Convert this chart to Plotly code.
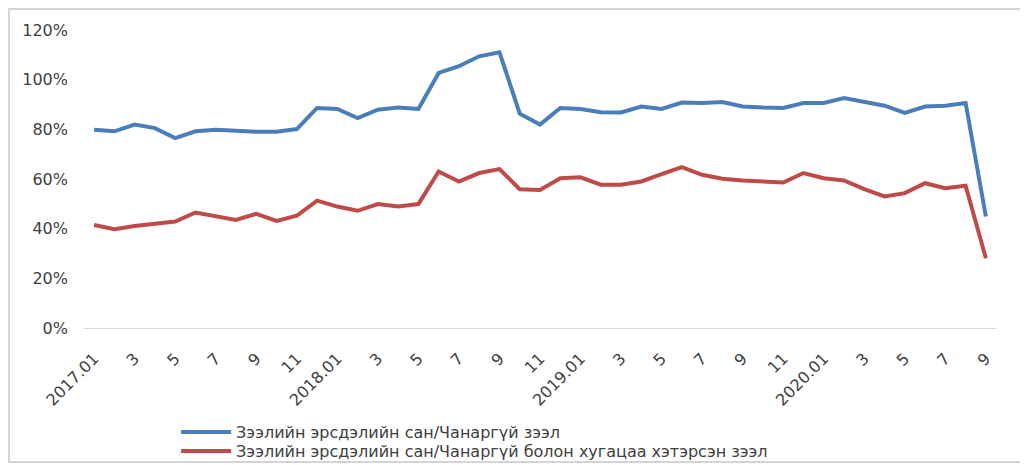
import plotly.graph_objects as go

months = [f"{y}.{m:02d}" for y in (2017, 2018, 2019, 2020) for m in range(1, 13)][:45]

series1_name = "Зээлийн эрсдэлийн сан/Чанаргүй зээл"
series1 = [79.8, 79.2, 81.9, 80.5, 76.5, 79.2, 79.8, 79.3, 79.0, 79.0, 80.1, 88.6,
           88.2, 84.5, 87.9, 88.8, 88.2, 102.7, 105.4, 109.4, 111.0, 86.3, 81.9, 88.6,
           88.2, 86.9, 86.8, 89.2, 88.2, 90.8, 90.6, 91.0, 89.2, 88.8, 88.6, 90.6,
           90.6, 92.6, 90.9, 89.5, 86.6, 89.2, 89.5, 90.6, 44.9]

series2_name = "Зээлийн эрсдэлийн сан/Чанаргүй болон хугацаа хэтэрсэн зээл"
series2 = [41.5, 39.8, 41.1, 41.8, 42.9, 46.5, 44.9, 43.5, 46.0, 43.1, 45.2, 51.3,
           48.9, 47.2, 49.9, 48.9, 49.9, 63.0, 59.0, 62.4, 64.0, 55.9, 55.6, 60.3,
           60.7, 57.7, 57.7, 59.0, 62.0, 64.8, 61.7, 60.1, 59.4, 59.0, 58.6, 62.4,
           60.3, 59.4, 55.9, 53.0, 54.3, 58.3, 56.3, 57.3, 28.1]

tick_labels = ["2017.01", "3", "5", "7", "9", "11",
               "2018.01", "3", "5", "7", "9", "11",
               "2019.01", "3", "5", "7", "9", "11",
               "2020.01", "3", "5", "7", "9"]

y_ticks = [0, 20, 40, 60, 80, 100, 120]

font_family = "DejaVu Sans, Verdana, sans-serif"
text_color = "#404040"
fs = 16

fig = go.Figure()
fig.add_trace(go.Scatter(x=months, y=series1, mode="lines", name=series1_name,
                         line=dict(color="#4a7ebb", width=4), legend="legend"))
fig.add_trace(go.Scatter(x=months, y=series2, mode="lines", name=series2_name,
                         line=dict(color="#be4b48", width=4), legend="legend2"))

leg_common = dict(xanchor="left", yanchor="middle", orientation="v",
                  font=dict(size=fs, color=text_color, family=font_family),
                  itemwidth=50, bgcolor="rgba(0,0,0,0)", borderwidth=0)

# the page body adds an 8px margin, so the figure is sized to fit inside the window
fig.update_layout(
    width=1020, height=457,
    margin=dict(l=76, r=32, t=22, b=137, autoexpand=False),
    paper_bgcolor="white", plot_bgcolor="white",
    font=dict(family=font_family, size=fs, color=text_color),
    showlegend=True,
    legend=dict(x=0.101, y=-0.349, **leg_common),
    legend2=dict(x=0.101, y=-0.413, **leg_common),
    xaxis=dict(type="category", tickmode="array", automargin=False,
               tickvals=months[::2], ticktext=tick_labels,
               tickangle=-45, showgrid=False, showline=True,
               linecolor="#d9d9d9", linewidth=1, ticks="",
               ticklabelstandoff=14,
               range=[-0.5, 44.5], tickfont=dict(size=fs, color=text_color)),
    yaxis=dict(range=[0, 120], tickvals=y_ticks, automargin=False,
               ticktext=[f"{v}%" for v in y_ticks],
               showgrid=False, zeroline=False, showline=False, ticks="",
               ticklabelstandoff=15, tickfont=dict(size=fs, color=text_color)),
    shapes=[dict(type="rect", xref="paper", yref="paper",
                 x0=-0.0822, x1=1.0307, y0=-0.4497, y1=1.0705,
                 line=dict(color="#d4d4d4", width=2), fillcolor="rgba(0,0,0,0)")],
)

fig.write_html("out.html")
